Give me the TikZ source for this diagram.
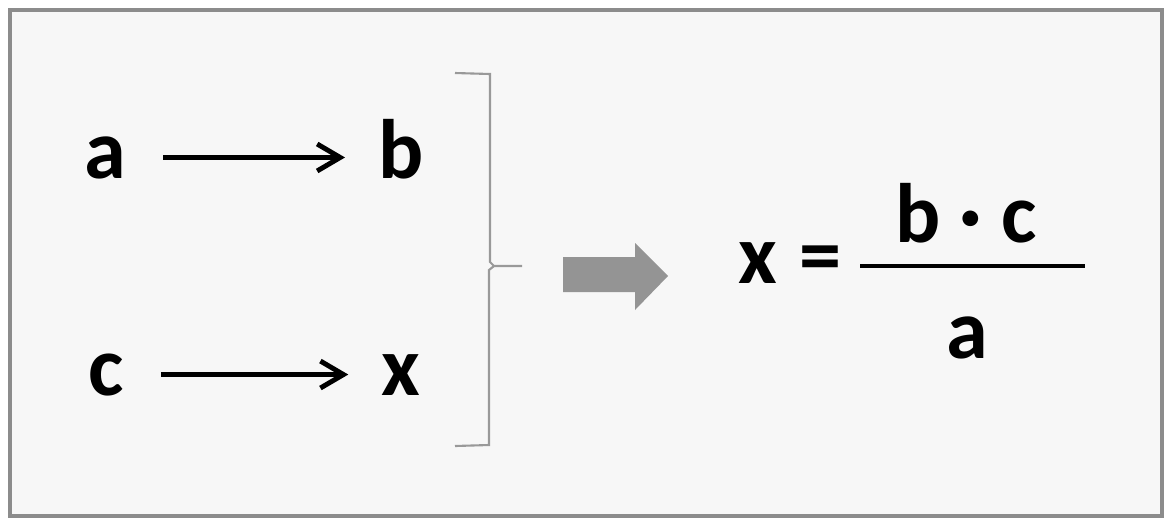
\documentclass[tikz,border=0pt]{standalone}
\usepackage{fontspec}
\setmainfont{Carlito}
\usepackage{tikz}
\usetikzlibrary{arrows.meta, positioning, calc}

\begin{document}
\begin{tikzpicture}[x=0.02cm, y=-0.02cm,
		letter/.style={inner sep=0pt, anchor=base, font=\fontsize{48}{56}\selectfont\bfseries},
		maparrow/.style={-{Straight Barb[length=0.46cm, width=0.54cm, line width=2.8pt]}, line width=3.2pt, black},
		brace/.style={draw=black!40, line width=1.2pt},
		bigarrow/.style={fill=black!42, draw=none},
		]

		% Frame
		\useasboundingbox (0,0) rectangle (1166,525);
		\draw[black!45, line width=2.2pt, fill=black!3] (10,10) rectangle (1162,516);

		% Letters
		\node[letter] (a) at (105,178) {a};
		\node[letter] (b) at (401,178) {b};
		\node[letter] (c) at (106,395) {c};
		\node[letter] (x) at (401,395) {x};

		% Arrows
		\draw[maparrow, shorten <=0.74cm, shorten >=0.66cm] (a.east) -- (a.east -| b.west);
		\draw[maparrow, shorten <=0.74cm, shorten >=0.66cm] (c.east) -- (c.east -| x.west);

		% Brace
		\coordinate (tip) at (522,266);
		\draw[brace] (455,73) -- (490,74) -- (490,262) -- (494,266) -- (tip);
		\draw[brace] (494,266) -- (489,270) -- (489,445) -- (455,446);

		% Big arrow
		\fill[bigarrow] (563,257) -- (635,257) -- (635,243) -- (668,276)
			-- (635,310) -- (635,292) -- (563,292) -- cycle;

		% Result
		\node[letter] (xres) at (758,283) {x};
		\node[letter] (eq) at (820,283) {=};
		\node[letter] (num) at (966,242) {b · c};
		\node[letter] (den) at (967,358) {a};
		\coordinate (barl) at (860,266);
		\coordinate (barr) at (1085,266);
		\draw[line width=2.4pt] (barl) -- (barr);
	\end{tikzpicture}
\end{document}
